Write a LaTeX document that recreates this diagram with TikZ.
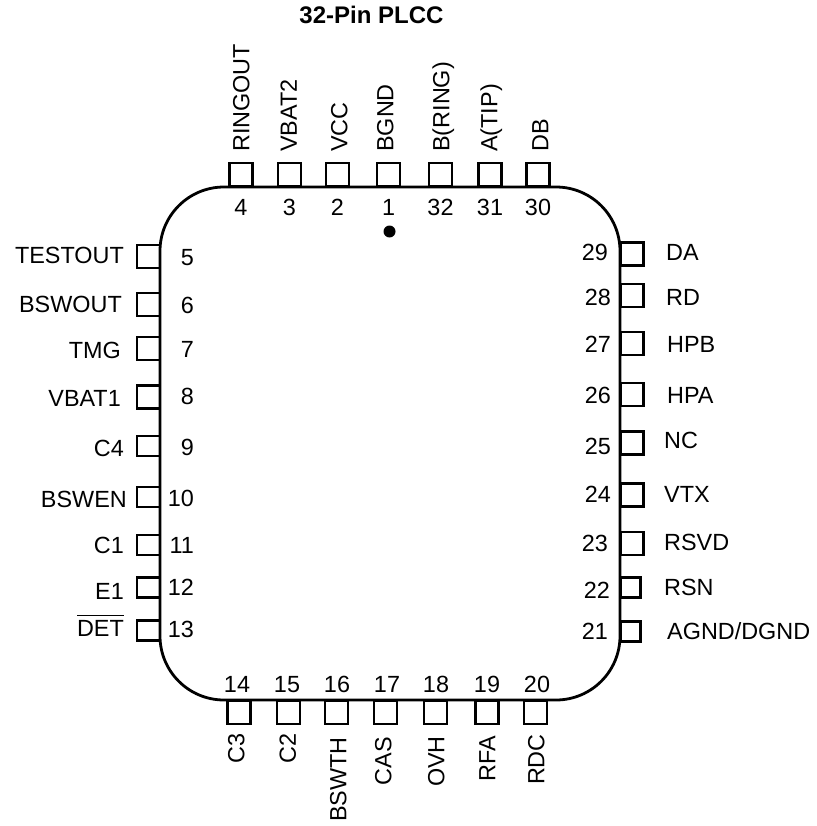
\documentclass[tikz,border=0pt]{standalone}
\usepackage{fontspec}
\setmainfont{Liberation Sans}
\tikzset{
  pin/.style={draw,line width=2.2pt,minimum size=23pt,inner sep=0pt},
  smallpin/.style={pin,minimum height=20pt},
  txt/.style={inner sep=0pt,text height=16.5pt,text depth=0pt,font=\fontsize{23.4}{28}\selectfont}
}
\begin{document}
\begin{tikzpicture}[x=1pt,y=-1pt]
    \useasboundingbox (0,0) rectangle (816,826);
    \node[txt,font=\fontsize{24}{28}\selectfont\bfseries] (title) at (371.5,15) {32-Pin PLCC};
    % top pins
    \foreach \x/\lx/\n/\s in {241/241/4/RINGOUT,289.5/288.5/3/VBAT2,337.5/339/2/VCC,388.5/385/1/BGND,440.5/441/32/B(RING),490/489/31/A(TIP),538/540/30/DB}{
        \node[pin] (p\n) at (\x,174.5) {};
        \node[txt] (n\n) at (\x,207.5) {\n};
        \node[txt,rotate=90,anchor=west] (l\n) at (\lx,152) {\s};
    }
    % bottom pins
    \foreach \x/\nx/\lx/\ly/\n/\s in {239/237/236/733/14/C3,288.5/287/287.5/733/15/C2,336.5/337/338/737/16/BSWTH,385.5/387/383/737/17/CAS,435.5/436/436/736/18/OVH,487/487/487/736/19/RFA,535.5/537/536/734/20/RDC}{
        \node[pin] (p\n) at (\x,712.5) {};
        \node[txt] (n\n) at (\nx,684) {\n};
        \node[txt,rotate=90,anchor=east] (l\n) at (\lx,\ly) {\s};
    }
    % left pins
    \foreach \y/\st/\ny/\lx/\ly/\n/\s in {256.5/pin/257/124/255/5/TESTOUT,304.5/pin/305/122/304/6/BSWOUT,348.5/pin/349/121/350/7/TMG,397/pin/396/121/398/8/VBAT1,446/smallpin/447/124/448/9/C4,497/smallpin/498/127/499/10/BSWEN,545/smallpin/545/124/545/11/C1,587.5/smallpin/587/124/591/12/E1,630.5/smallpin/629/124/628/13/$\overline{\mbox{\rule{0pt}{19.5pt}DET}}$}{
        \node[\st] (p\n) at (148.5,\y) {};
        \node[txt,anchor=east] (n\n) at (194,\ny) {\n};
        \node[txt,anchor=east] (l\n) at (\lx,\ly) {\s};
    }
    % right pins
    \foreach \y/\nx/\ny/\lx/\ly/\n/\s in {254/608/252/666/252/29/DA,295.5/611/297/666/297/28/RD,343.5/611/344/667/344/27/HPB,394.5/611/395/667/395/26/HPA,443/611/446/664/440/25/NC,495/611/494/664/494/24/VTX,543.5/608/543/664/542/23/RSVD}{
        \node[pin] (p\n) at (632,\y) {};
        \node[txt,anchor=east] (n\n) at (\nx,\ny) {\n};
        \node[txt,anchor=west] (l\n) at (\lx,\ly) {\s};
    }
    \foreach \y/\nx/\ny/\lx/\ly/\n/\s in {587.5/610/590/664/587/22/RSN,631.5/608/631/667/631/21/{AGND/DGND}}{
        \node[smallpin,minimum width=20pt] (p\n) at (630.5,\y) {};
        \node[txt,anchor=east] (n\n) at (\nx,\ny) {\n};
        \node[txt,anchor=west] (l\n) at (\lx,\ly) {\s};
    }
    % package outline
    \draw[line width=2.8pt,rounded corners=64pt] (160,187) rectangle (620,700);
    \fill (389.5,231.5) circle (6pt);
\end{tikzpicture}
\end{document}
